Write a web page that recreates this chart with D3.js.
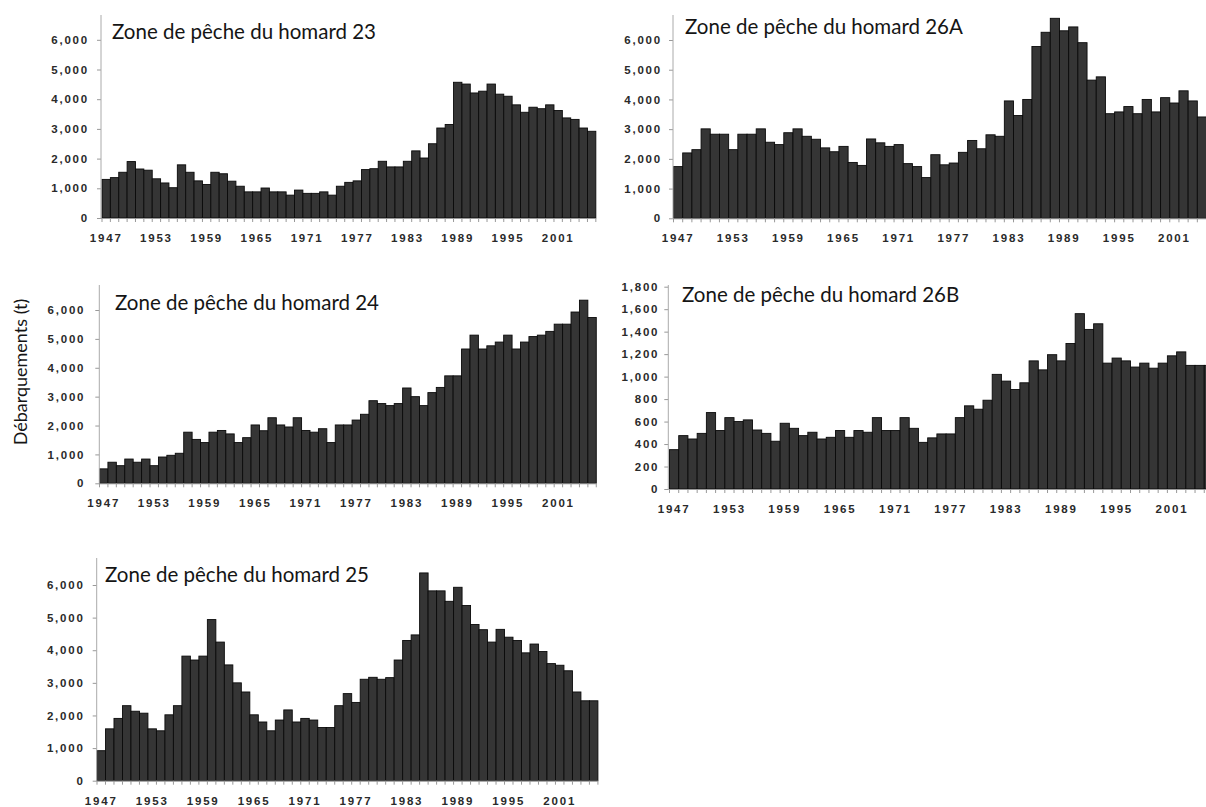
<!DOCTYPE html>
<html>
<head>
<meta charset="utf-8">
<script src="https://cdnjs.cloudflare.com/ajax/libs/d3/7.8.5/d3.min.js"></script>
<style>
  body { margin: 0; background: #fff; }
  svg { display: block; }
  .tick text { font-family: "Liberation Sans", Arial, sans-serif; font-size: 11.5px; font-weight: bold; fill: #2a2a2a; letter-spacing: 1.8px; }
  .title, .ylabel { font-family: Lato, "Open Sans", sans-serif; fill: #151515; }
</style>
</head>
<body>
<svg id="chart" width="1206" height="807"></svg>
<script>
(function () {
  'use strict';

  // landings by year, tonnes
  const years = d3.range(1947, 2006);
  const yearLabels = [1947, 1953, 1959, 1965, 1971, 1977, 1983, 1989, 1995, 2001];
  const ticksTonnes = [0, 1000, 2000, 3000, 4000, 5000, 6000];
  const ticks26B = [0, 200, 400, 600, 800, 1000, 1200, 1400, 1600, 1800];

  const zone23 = [1300, 1360, 1540, 1900, 1650, 1610, 1320, 1180, 1020, 1790,
    1540, 1250, 1130, 1540, 1490, 1240, 1070, 880, 880, 1010,
    880, 880, 770, 940, 830, 830, 880, 770, 1070, 1200,
    1250, 1630, 1660, 1910, 1720, 1720, 1910, 2260, 2020, 2500,
    3030, 3150, 4570, 4510, 4210, 4270, 4510, 4170, 4100, 3810,
    3560, 3730, 3680, 3810, 3620, 3370, 3320, 3030, 2920];

  const zone26A = [1740, 2200, 2310, 3010, 2830, 2830, 2310, 2830, 2830, 3010,
    2560, 2480, 2880, 3010, 2760, 2660, 2370, 2240, 2420, 1880,
    1780, 2670, 2540, 2420, 2480, 1840, 1740, 1370, 2140, 1800,
    1860, 2220, 2620, 2340, 2810, 2760, 3950, 3460, 4000, 5780,
    6260, 6730, 6310, 6440, 5910, 4650, 4760, 3520, 3580, 3760,
    3520, 4000, 3580, 4060, 3880, 4290, 3950, 3410];

  const zone24 = [500, 730, 610, 840, 730, 840, 610, 910, 970, 1040,
    1770, 1520, 1410, 1770, 1830, 1710, 1410, 1580, 2020, 1820,
    2270, 2020, 1950, 2270, 1830, 1770, 1890, 1410, 2020, 2020,
    2190, 2390, 2860, 2760, 2690, 2760, 3300, 3000, 2690, 3140,
    3320, 3720, 3720, 4650, 5130, 4650, 4760, 4890, 5130, 4650,
    4890, 5080, 5130, 5260, 5510, 5510, 5930, 6340, 5740];

  const zone26B = [350, 475, 445, 495, 680, 520, 635, 600, 615, 525,
    495, 425, 585, 540, 475, 505, 445, 460, 520, 460,
    520, 505, 635, 520, 520, 635, 540, 415, 455, 490,
    490, 635, 740, 710, 790, 1020, 960, 885, 945, 1140,
    1060, 1195, 1140, 1295, 1560, 1420, 1470, 1120, 1165, 1140,
    1085, 1120, 1075, 1120, 1185, 1220, 1100, 1100, 1100];

  const zone25 = [920, 1590, 1910, 2300, 2130, 2070, 1590, 1530, 2020, 2300,
    3820, 3700, 3820, 4940, 4250, 3550, 3000, 2720, 2020, 1800,
    1530, 1860, 2170, 1800, 1910, 1860, 1630, 1630, 2300, 2670,
    2400, 3110, 3170, 3110, 3160, 3700, 4300, 4470, 6370, 5820,
    5820, 5500, 5930, 5370, 4790, 4630, 4250, 4640, 4400, 4300,
    3920, 4190, 3960, 3590, 3540, 3370, 2720, 2450, 2450];

  const titles = [
    'Zone de pêche du homard 23',
    'Zone de pêche du homard 26A',
    'Zone de pêche du homard 24',
    'Zone de pêche du homard 26B',
    'Zone de pêche du homard 25'
  ];

  // where each little chart sits on the page
  const panels = [
    { title: titles[0], values: zone23, ticks: ticksTonnes, axisX: 101, bandX: 102, step: 8.37, zeroY: 218, topY: 39.8, axisTop: 15, gap: 12, titleX: 112, titleY: 38.5 },
    { title: titles[1], values: zone26A, ticks: ticksTonnes, axisX: 673, bandX: 673.5, step: 9.19, zeroY: 218.3, topY: 40, axisTop: 15, gap: 11, titleX: 685, titleY: 33.5 },
    { title: titles[2], values: zone24, ticks: ticksTonnes, axisX: 99.3, bandX: 99.5, step: 8.42, zeroY: 483.3, topY: 310, axisTop: 285, gap: 14, titleX: 115, titleY: 309.5 },
    { title: titles[3], values: zone26B, ticks: ticks26B, axisX: 668.3, bandX: 669.5, step: 9.22, zeroY: 489, topY: 286.7, axisTop: 285, gap: 9, titleX: 682, titleY: 302 },
    { title: titles[4], values: zone25, ticks: ticksTonnes, axisX: 96.7, bandX: 97, step: 8.49, zeroY: 780.7, topY: 585, axisTop: 558, gap: 12, titleX: 105, titleY: 582 }
  ];

  const svg = d3.select('#chart');
  svg.append('rect')
    .attr('width', 1206)
    .attr('height', 807)
    .attr('fill', '#fff');

  const drawPanel = (p) => {
    const g = svg.append('g');

    const x = d3.scaleBand()
      .domain(years)
      .range([p.bandX, p.bandX + years.length * p.step])
      .paddingInner(0)
      .paddingOuter(0);

    const y = d3.scaleLinear()
      .domain([0, d3.max(p.ticks)])
      .range([p.zeroY, p.topY]);

    // bars first, axes on top of the baseline
    g.selectAll('rect.bar')
      .data(p.values)
      .enter()
      .append('rect')
      .attr('class', 'bar')
      .attr('x', (d, i) => x(years[i]))
      .attr('y', d => y(d))
      .attr('width', x.bandwidth())
      .attr('height', d => p.zeroY - y(d))
      .attr('fill', '#353535')
      .attr('stroke', '#0a0a0a')
      .attr('stroke-width', 0.9);

    // y axis
    const yAxis = g.append('g')
      .attr('transform', `translate(${p.axisX},0)`)
      .call(d3.axisLeft(y)
        .tickValues(p.ticks)
        .tickFormat(d3.format(','))
        .tickSize(4)
        .tickPadding(p.gap - 4));
    yAxis.select('.domain').remove();
    yAxis.selectAll('.tick line').attr('stroke', '#999');

    g.append('line')
      .attr('x1', p.axisX)
      .attr('x2', p.axisX)
      .attr('y1', p.axisTop)
      .attr('y2', p.zeroY)
      .attr('stroke', '#aaa');

    // baseline with a tick under every bar edge
    g.append('line')
      .attr('x1', p.axisX)
      .attr('x2', x.range()[1])
      .attr('y1', p.zeroY + 0.5)
      .attr('y2', p.zeroY + 0.5)
      .attr('stroke', '#999');

    g.selectAll('line.edge')
      .data(years.concat([years[years.length - 1] + 1]))
      .enter()
      .append('line')
      .attr('class', 'edge')
      .attr('x1', (d, i) => x.range()[0] + i * x.step())
      .attr('x2', (d, i) => x.range()[0] + i * x.step())
      .attr('y1', p.zeroY)
      .attr('y2', p.zeroY + 4)
      .attr('stroke', '#999');

    // year labels
    const xAxis = g.append('g')
      .attr('transform', `translate(0,${p.zeroY})`)
      .call(d3.axisBottom(x)
        .tickValues(yearLabels)
        .tickSize(0)
        .tickPadding(16));
    xAxis.select('.domain').remove();

    g.append('text')
      .attr('class', 'title')
      .attr('x', p.titleX)
      .attr('y', p.titleY)
      .attr('font-size', 20.5)
      .text(p.title);
  };

  panels.forEach(drawPanel);

  svg.append('text')
    .attr('class', 'ylabel')
    .attr('transform', 'translate(27,372) rotate(-90)')
    .attr('text-anchor', 'middle')
    .attr('font-size', 18)
    .text('Débarquements (t)');
})();
</script>
</body>
</html>
